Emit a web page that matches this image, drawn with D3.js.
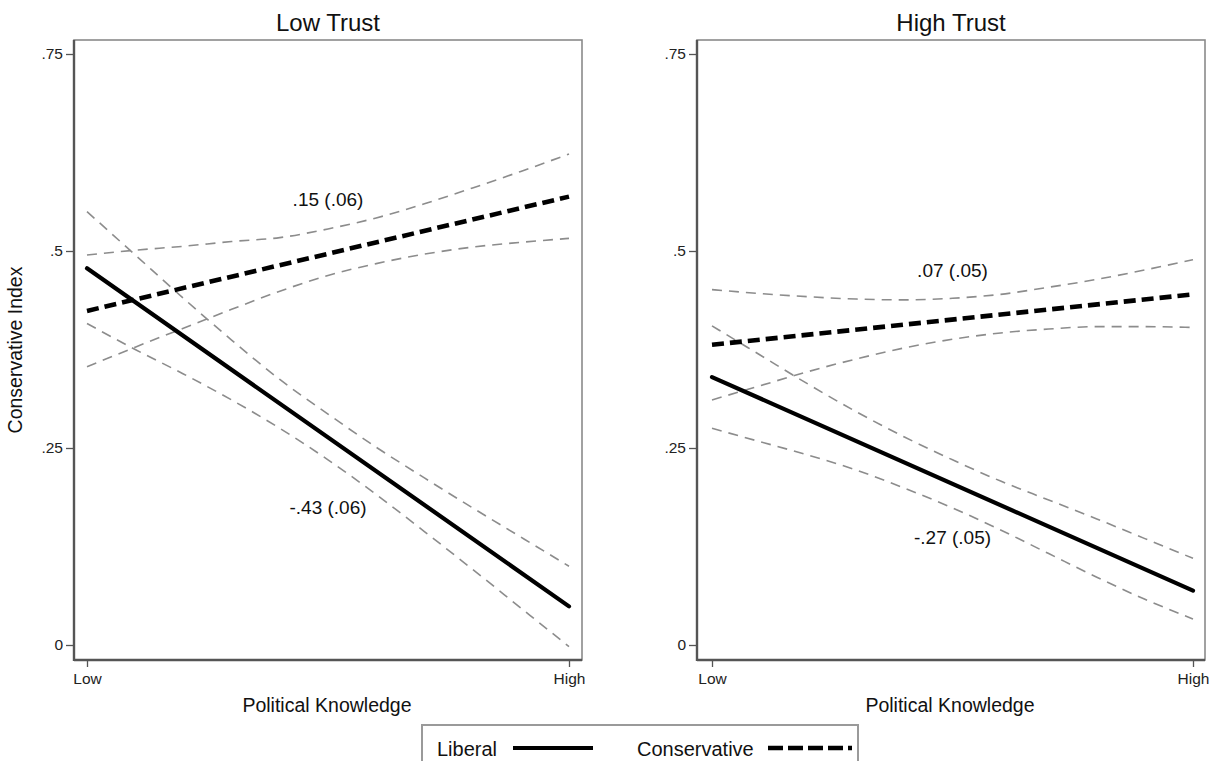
<!DOCTYPE html>
<html>
<head>
<meta charset="utf-8">
<script src="https://cdn.jsdelivr.net/npm/d3@7"></script>
<style>
  html, body { margin: 0; padding: 0; background: #fff; }
  svg { display: block; font-family: "Liberation Sans", Arial, Helvetica, sans-serif; }
</style>
</head>
<body>
<svg id="chart" width="1217" height="761"></svg>
<script>
// ---------------- data ----------------
const panelTitles = ["Low Trust", "High Trust"];
const xTickValues = [0, 1];
const xTickLabels = ["Low", "High"];
const yTickValues = [0, 0.25, 0.5, 0.75];
const yTickLabels = ["0", ".25", ".5", ".75"];
const yTitle = "Conservative Index";
const xTitle = "Political Knowledge";
const seriesNames = ["Liberal", "Conservative"];

// Political knowledge grid (0 = Low, 1 = High)
const knowledge = [0, 0.1, 0.2, 0.3, 0.4, 0.5, 0.6, 0.7, 0.8, 0.9, 1];
const knowledgeEnds = [0, 1];

// Low Trust panel
const lowTrustLiberal      = [0.478, 0.049];
const lowTrustLiberalUpper = [0.550, 0.495, 0.440, 0.387, 0.337, 0.293, 0.251, 0.212, 0.174, 0.137, 0.100];
const lowTrustLiberalLower = [0.408, 0.375, 0.344, 0.311, 0.275, 0.235, 0.191, 0.144, 0.096, 0.047, -0.002];
const lowTrustConservative      = [0.424, 0.569];
const lowTrustConservativeUpper = [0.495, 0.501, 0.506, 0.512, 0.517, 0.528, 0.542, 0.560, 0.580, 0.601, 0.623];
const lowTrustConservativeLower = [0.353, 0.378, 0.402, 0.426, 0.449, 0.469, 0.484, 0.496, 0.505, 0.511, 0.516];

// High Trust panel
const highTrustLiberal      = [0.340, 0.069];
const highTrustLiberalUpper = [0.405, 0.368, 0.331, 0.296, 0.264, 0.235, 0.208, 0.184, 0.160, 0.135, 0.110];
const highTrustLiberalLower = [0.275, 0.258, 0.241, 0.222, 0.199, 0.174, 0.146, 0.116, 0.086, 0.058, 0.033];
const highTrustConservative      = [0.381, 0.445];
const highTrustConservativeUpper = [0.451, 0.446, 0.442, 0.439, 0.438, 0.440, 0.445, 0.454, 0.464, 0.476, 0.489];
const highTrustConservativeLower = [0.311, 0.329, 0.347, 0.363, 0.377, 0.388, 0.396, 0.401, 0.404, 0.404, 0.403];

// slope annotations: [text, knowledge, index]
const lowTrustNotes  = [[".15 (.06)", 0.5, 0.565], ["-.43 (.06)", 0.5, 0.175]];
const highTrustNotes = [[".07 (.05)", 0.5, 0.476], ["-.27 (.05)", 0.5, 0.137]];

const panels = [
  { title: panelTitles[0], lib: lowTrustLiberal, libU: lowTrustLiberalUpper, libL: lowTrustLiberalLower,
    con: lowTrustConservative, conU: lowTrustConservativeUpper, conL: lowTrustConservativeLower, notes: lowTrustNotes,
    frame: [74, 582], range: [87, 569] },
  { title: panelTitles[1], lib: highTrustLiberal, libU: highTrustLiberalUpper, libL: highTrustLiberalLower,
    con: highTrustConservative, conU: highTrustConservativeUpper, conL: highTrustConservativeLower, notes: highTrustNotes,
    frame: [697, 1205], range: [712, 1193] }
];

// ---------------- drawing ----------------
const svg = d3.select("#chart");
const plotTop = 40, plotBottom = 660;
const y = d3.scaleLinear().domain([0, 0.75]).range([645, 54]);

panels.forEach((p, i) => {
  const x = d3.scaleLinear().domain([0, 1]).range(p.range);
  const g = svg.append("g");

  // frame
  g.append("rect")
    .attr("x", p.frame[0]).attr("y", plotTop)
    .attr("width", p.frame[1] - p.frame[0]).attr("height", plotBottom - plotTop)
    .attr("fill", "none").attr("stroke", "#8a8a8a").attr("stroke-width", 1.6);
  // left and bottom axis lines (darker)
  g.append("line").attr("x1", p.frame[0]).attr("x2", p.frame[0]).attr("y1", plotTop).attr("y2", plotBottom + 1)
    .attr("stroke", "#555").attr("stroke-width", 2.4);
  g.append("line").attr("x1", p.frame[0]).attr("x2", p.frame[1]).attr("y1", plotBottom).attr("y2", plotBottom)
    .attr("stroke", "#555").attr("stroke-width", 2.4);

  // y axis
  const yAxis = d3.axisLeft(y).tickValues(yTickValues)
    .tickFormat((d, k) => yTickLabels[k]).tickSize(8).tickPadding(3);
  const ya = g.append("g").attr("transform", `translate(${p.frame[0]},0)`).call(yAxis);
  ya.select(".domain").remove();
  ya.selectAll(".tick line").attr("stroke", "#555").attr("stroke-width", 1.3);
  ya.selectAll(".tick text").attr("font-size", 15.5).attr("fill", "#222")
    .attr("font-family", "Liberation Sans, Arial, sans-serif");

  // x axis
  const xAxis = d3.axisBottom(x).tickValues(xTickValues)
    .tickFormat((d, k) => xTickLabels[k]).tickSize(7).tickPadding(6);
  const xa = g.append("g").attr("transform", `translate(0,${plotBottom})`).call(xAxis);
  xa.select(".domain").remove();
  xa.selectAll(".tick line").attr("stroke", "#555").attr("stroke-width", 1.3);
  xa.selectAll(".tick text").attr("font-size", 15.5).attr("fill", "#222")
    .attr("font-family", "Liberation Sans, Arial, sans-serif");

  // title
  g.append("text").attr("x", (p.frame[0] + p.frame[1]) / 2).attr("y", 31)
    .attr("text-anchor", "middle").attr("font-size", 24).attr("fill", "#111").text(p.title);
  // x title
  g.append("text").attr("x", (p.frame[0] + p.frame[1]) / 2 - 1).attr("y", 712)
    .attr("text-anchor", "middle").attr("font-size", 19.5).attr("fill", "#111").text(xTitle);

  const curve = d3.line().x((d, k) => x(knowledge[k])).y(d => y(d)).curve(d3.curveMonotoneX);
  const straight = d3.line().x((d, k) => x(knowledgeEnds[k])).y(d => y(d));

  // CI bands (thin gray dashed)
  [p.libU, p.libL, p.conU, p.conL].forEach(arr => {
    g.append("path").attr("d", curve(arr)).attr("fill", "none")
      .attr("stroke", "#8c8c8c").attr("stroke-width", 1.6).attr("stroke-dasharray", "10,7");
  });
  // means
  g.append("path").attr("d", straight(p.lib)).attr("fill", "none")
    .attr("stroke", "#000").attr("stroke-width", 4.2).attr("stroke-linecap", "round");
  g.append("path").attr("d", straight(p.con)).attr("fill", "none")
    .attr("stroke", "#000").attr("stroke-width", 4.6).attr("stroke-dasharray", "12,6");

  // notes
  p.notes.forEach(n => {
    g.append("text").attr("x", x(n[1])).attr("y", y(n[2])).attr("dy", "0.35em")
      .attr("text-anchor", "middle").attr("font-size", 19).attr("fill", "#111").text(n[0]);
  });
});

// y axis title
svg.append("text").attr("transform", "translate(22,350) rotate(-90)")
  .attr("text-anchor", "middle").attr("font-size", 19.5).attr("fill", "#111").text(yTitle);

// legend
const lg = svg.append("g");
lg.append("rect").attr("x", 422).attr("y", 725).attr("width", 436).attr("height", 60)
  .attr("fill", "#fff").attr("stroke", "#9a9a9a").attr("stroke-width", 2);
lg.append("text").attr("x", 437).attr("y", 756).attr("font-size", 20).attr("fill", "#111").text(seriesNames[0]);
lg.append("line").attr("x1", 513).attr("x2", 593).attr("y1", 748).attr("y2", 748)
  .attr("stroke", "#000").attr("stroke-width", 4.2);
lg.append("text").attr("x", 637).attr("y", 756).attr("font-size", 20).attr("fill", "#111").text(seriesNames[1]);
lg.append("line").attr("x1", 768).attr("x2", 852).attr("y1", 748).attr("y2", 748)
  .attr("stroke", "#000").attr("stroke-width", 4.6).attr("stroke-dasharray", "15,5");
</script>
</body>
</html>
